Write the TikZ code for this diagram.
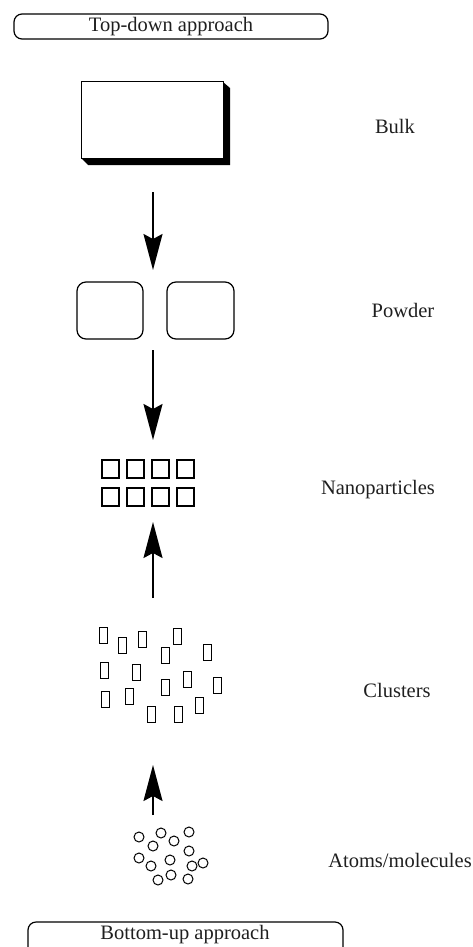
\documentclass[tikz,border=0pt]{standalone}
\usepackage{fontspec}
\setmainfont{Liberation Serif}
\usetikzlibrary{arrows.meta}
\tikzstyle{lbl}=[font=\fontsize{20.5}{24}\selectfont, inner sep=0pt, text=black!88]
\tikzstyle{band}=[draw, rounded corners=8pt, line width=1.2pt]
\tikzstyle{arr}=[line width=1.8pt, -{Stealth[length=36pt,width=19pt,inset=5pt]}]
\tikzstyle{grain}=[draw, line width=1.2pt, rounded corners=9pt]

\begin{document}
\begin{tikzpicture}[x=1pt, y=-1pt, line width=1pt]
	\clip (0,0) rectangle (472,947);
	% approach bands
	\draw[band] (14,14) rectangle (328,39);
	\node[lbl] (topdown) at (171,27) {Top-down approach};
	\draw[band] (28,922) rectangle (343,960);
	\node[lbl] (bottomup) at (185,935) {Bottom-up approach};
	% bulk
	\fill (223,82) -- (230,88) -- (230,165) -- (88,165) -- (81,158) -- cycle;
	\draw[fill=white] (81,82) rectangle (223,158);
	\node[lbl] (bulk) at (395,126) {Bulk};
	% powder
	\draw[grain] (77,282) rectangle (143,339);
	\draw[grain] (167,282) rectangle (234,339);
	\node[lbl] (powder) at (403,310) {Powder};
	% nanoparticles
	\foreach \i in {0,...,3} {
		\draw[line width=1.2pt] (102+25*\i,460) rectangle ++(17,18);
		\draw[line width=1.2pt] (102+25*\i,488) rectangle ++(17,18);
	}
	\node[lbl] (nano) at (378,490) {Nanoparticles};
	% clusters
	\foreach \x/\y in {103.5/635.5, 122.5/645, 142.5/639.5, 177.5/636.5, 165/655.5,
		207.5/652.5, 104/670, 136/672.5, 187/679.5, 165/687.5, 217.5/685,
		105/699.5, 129/696.5, 199/705.5, 151/714, 178.5/714}
		\draw (\x-4,\y-8) rectangle ++(8,16);
	\node[lbl] (clusters) at (397,690) {Clusters};
	% atoms
	\foreach \x/\y in {139/837, 161/833, 153/846, 174/841, 189/832, 189/851, 139/858,
		151/866, 170/860, 192/866, 203/863, 158/880, 171/875, 188/879}
		\draw (\x,\y) circle (5);
	\node[lbl] (atoms) at (400,860) {Atoms/molecules};
	% arrows
	\coordinate (bulkout) at (153,192);
	\coordinate (powderin) at (153,270);
	\coordinate (powderout) at (153,350);
	\coordinate (nanoin) at (153,440);
	\coordinate (nanoup) at (153,522);
	\coordinate (clusterout) at (153,598);
	\coordinate (clusterin) at (153,765);
	\coordinate (atomout) at (153,815);
	\draw[arr] (bulkout) -- (powderin);
	\draw[arr] (powderout) -- (nanoin);
	\draw[arr] (clusterout) -- (nanoup);
	\draw[arr] (atomout) -- (clusterin);
\end{tikzpicture}
\end{document}
